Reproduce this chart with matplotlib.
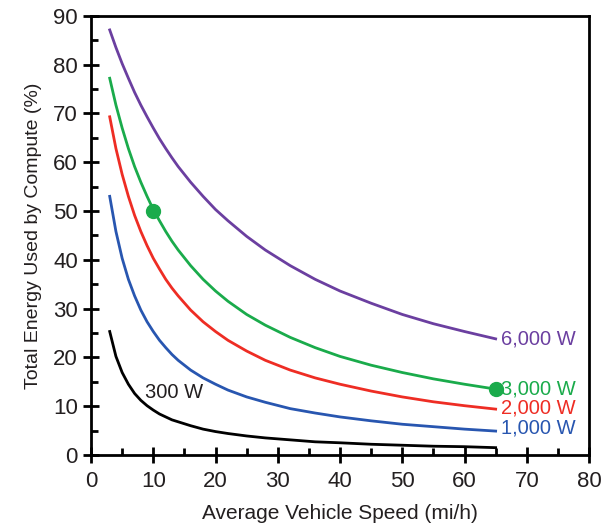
import matplotlib
matplotlib.use("Agg")
import matplotlib.pyplot as plt
from matplotlib.ticker import MultipleLocator

plt.rcParams['font.family'] = ['Liberation Sans', 'DejaVu Sans']

# speeds (mi/h)
speed = [3, 4, 5, 6, 7, 8, 9, 10, 11, 12, 13, 14, 16, 18, 20, 22, 25, 28, 32, 36, 40, 45, 50, 55, 60, 65]

# share of energy used by compute (%)
w6000 = [87.1, 83.5, 80.2, 77.2, 74.3, 71.7, 69.3, 67.0, 64.8, 62.8, 60.9, 59.1, 55.9, 53.0,
         50.3, 48.0, 44.8, 42.0, 38.8, 36.0, 33.6, 31.1, 28.8, 26.9, 25.3, 23.8]
w3000 = [77.2, 71.7, 67.0, 62.8, 59.1, 55.9, 53.0, 50.3, 48.0, 45.8, 43.8, 42.0, 38.8, 36.0,
         33.6, 31.5, 28.8, 26.6, 24.1, 22.0, 20.2, 18.4, 16.9, 15.6, 14.5, 13.5]
w2000 = [69.3, 62.8, 57.5, 53.0, 49.1, 45.8, 42.9, 40.3, 38.1, 36.0, 34.2, 32.6, 29.7, 27.3,
         25.3, 23.5, 21.3, 19.4, 17.4, 15.8, 14.5, 13.1, 11.9, 10.9, 10.1, 9.4]
w1000 = [53.0, 45.8, 40.3, 36.0, 32.6, 29.7, 27.3, 25.3, 23.5, 22.0, 20.6, 19.4, 17.4, 15.8,
         14.5, 13.3, 11.9, 10.8, 9.5, 8.6, 7.8, 7.0, 6.3, 5.8, 5.3, 4.9]
w300 = [25.3, 20.2, 16.9, 14.5, 12.6, 11.2, 10.1, 9.2, 8.4, 7.8, 7.2, 6.8, 6.0, 5.3,
        4.8, 4.4, 3.9, 3.5, 3.1, 2.7, 2.5, 2.2, 2.0, 1.8, 1.7, 1.5]

# highlighted points on the 3,000 W curve
dot_x = [10, 65]
dot_y = [50, 13.5]

labels = ['6,000 W', '3,000 W', '2,000 W', '1,000 W']
label_y = [23.8, 13.5, 9.6, 5.5]

purple = '#6b3fa0'
green = '#1aab4b'
red = '#ee2d24'
blue = '#2856b0'
txt = '#231f20'

fig = plt.figure(figsize=(6.11, 5.26), dpi=100)
ax = fig.add_axes([0.149, 0.135, 0.815, 0.835])

ax.plot(speed, w6000, color=purple, lw=2)
ax.plot(speed, w3000, color=green, lw=2)
ax.plot(speed, w2000, color=red, lw=2)
ax.plot(speed, w1000, color=blue, lw=2)
ax.plot(speed, w300, color='black', lw=2)
ax.plot(dot_x, dot_y, 'o', color=green, ms=10, zorder=5)

for lab, yy, c in zip(labels, label_y, [purple, green, red, blue]):
    ax.text(65.9, yy, lab, color=c, fontsize=14.5, va='center', ha='left')
ax.text(8.6, 12.9, '300 W', color=txt, fontsize=14.5, va='center', ha='left')

ax.set_xlim(0, 80)
ax.set_ylim(0, 90)
ax.xaxis.set_major_locator(MultipleLocator(10))
ax.xaxis.set_minor_locator(MultipleLocator(5))
ax.yaxis.set_major_locator(MultipleLocator(10))
ax.yaxis.set_minor_locator(MultipleLocator(5))
ax.tick_params(which='major', direction='inout', length=11, width=2,
               labelsize=16, labelcolor=txt)
ax.tick_params(axis='x', which='major', pad=6)
ax.tick_params(axis='y', which='major', pad=4)
ax.tick_params(which='minor', direction='in', length=5, width=2)
for s in ax.spines.values():
    s.set_linewidth(2)

ax.set_xlabel('Average Vehicle Speed (mi/h)', fontsize=15, color=txt, labelpad=9)
ax.set_ylabel('Total Energy Used by Compute (%)', fontsize=14, color=txt, labelpad=8)

fig.savefig('out.png', dpi=100)
